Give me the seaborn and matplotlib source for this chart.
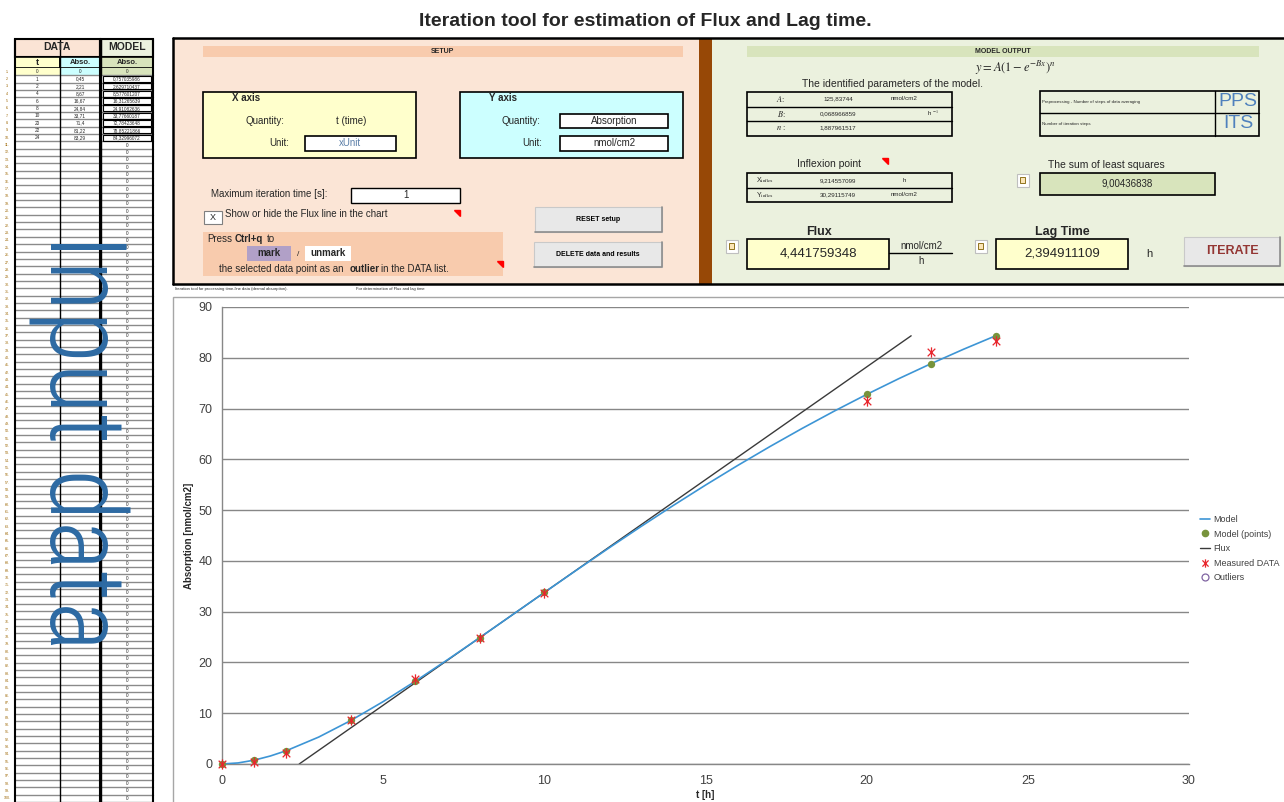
import numpy as np
import pandas as pd
import seaborn as sns
import matplotlib.pyplot as plt
from matplotlib.patches import Rectangle, Polygon
from matplotlib.lines import Line2D
from matplotlib.path import Path

# ---- data read from the sheet ----
t_data = [0, 1, 2, 4, 6, 8, 10, 20, 22, 24]
abs_data = [0, 0.45, 2.21, 8.67, 16.67, 24.84, 33.71, 71.4, 81.22, 83.29]
abs_text = ["0", "0,45", "2,21", "8,67", "16,67", "24,84", "33,71", "71,4", "81,22", "83,29"]
model_pts = [0, 0.757, 2.630, 8.577, 16.313, 24.911, 33.777, 72.784, 78.852, 84.330]
model_text = ["0", "0,757035986", "2,629710437", "8,577601207", "16,31265639", "24,91082636",
              "33,77660187", "72,78423648", "78,85221866", "84,32996072"]

# model curve as drawn in the chart
curve_t = [0, 0.5, 1, 1.5, 2, 3, 4, 5, 6, 7, 8, 9, 10, 11, 12, 13, 14, 15, 16, 17,
           18, 19, 20, 21, 22, 23, 24]
curve_y = [0, 0.211, 0.757, 1.576, 2.629, 5.304, 8.576, 12.289, 16.310, 20.547, 24.907,
           29.338, 33.777, 38.182, 42.525, 46.776, 50.913, 54.924, 58.796, 62.520,
           66.093, 69.516, 72.785, 75.898, 78.850, 81.665, 84.330]

# flux line: from lag time up to max model value
flux_x = [2.394911109, 21.38]
flux_y = [0, 84.33]

legend_labels = ["Model", "Model (points)", "Flux", "Measured DATA", "Outliers"]

sns.set_style("white")
plt.rcParams['font.family'] = ['Liberation Sans', 'DejaVu Sans']
plt.rcParams['mathtext.fontset'] = 'stix'

fig = plt.figure(figsize=(12.84, 8.02), dpi=100)
bg = fig.add_axes([0, 0, 1, 1])
bg.set_xlim(0, 1284)
bg.set_ylim(802, 0)
bg.axis('off')


def rect(x, y, w, h, fc='none', ec='black', lw=1.0, z=1):
    bg.add_patch(Rectangle((x, y), w, h, facecolor=fc, edgecolor=ec, lw=lw, zorder=z))


def txt(x, y, s, size=7, ha='center', va='center', z=5, **kw):
    return bg.text(x, y, s, fontsize=size, ha=ha, va=va, zorder=z, **kw)


def tri(x, y):
    bg.add_patch(Polygon([(x - 6, y - 3), (x, y - 3), (x, y + 3)], closed=True,
                         color='red', zorder=6))


def icon(x, y):
    rect(x - 6, y - 7, 12, 13, fc='white', ec='#bfbfbf', lw=0.8, z=4)
    rect(x - 3, y - 4, 5, 6, fc='#fbe5b6', ec='#7f6000', lw=0.6, z=5)


def button(x, y, w, h, label, size=5, color='black'):
    rect(x, y, w, h, fc='#e8e8e8', ec='#c9c9c9', lw=0.8, z=3)
    bg.plot([x + w, x + w, x], [y, y + h, y + h], color='#8c8c8c', lw=1.2, zorder=4)
    txt(x + w / 2, y + h / 2, label, size=size, weight='bold', color=color)


# ---- title ----
txt(645, 21, "Iteration tool for estimation of Flux and Lag time.", size=14, weight='bold')

# ---- DATA / MODEL table ----
rect(15, 39, 85, 18, fc='#fbe4d5', lw=1.5, z=2)
txt(57, 47, "DATA", size=7.5, weight='bold')
rect(101, 39, 52, 18, fc='#ebf1de', lw=1.5, z=2)
txt(127, 47, "MODEL", size=7.5, weight='bold')
rect(15, 57, 45, 11, fc='#ffffcc', lw=1.2, z=2)
rect(60, 57, 40, 11, fc='#ccffff', lw=1.2, z=2)
rect(101, 57, 52, 11, fc='#d8e4bc', lw=1.2, z=2)
txt(37, 62.5, "t", size=6.5, weight='bold')
txt(80, 62.5, "Abso.", size=5.5, weight='bold')
txt(127, 62.5, "Abso.", size=5.5, weight='bold')

row_h = 7.34
n_rows = 100
for i in range(n_rows):
    y0 = 68 + i * row_h
    yc = y0 + row_h / 2
    if i == 0:
        rect(15, y0, 45, row_h, fc='#ffffcc', ec='none', z=2)
        rect(60, y0, 40, row_h, fc='#ccffff', ec='none', z=2)
        rect(101, y0, 52, row_h, fc='#d8e4bc', ec='none', z=2)
    bg.plot([15, 153], [y0 + row_h, y0 + row_h], color='#8a8a8a', lw=1.0, zorder=2)
    txt(7, yc, f"{i + 1}.", size=2.6, color='#9c6500')
    if i < len(t_data):
        txt(37, yc, str(t_data[i]), size=3.4)
        txt(80, yc, abs_text[i], size=3.4)
        txt(127, yc, model_text[i], size=3.4)
        if i > 0:
            rect(103, y0 + 0.6, 48, row_h - 1.2, ec='black', lw=0.8, z=3)
    else:
        txt(127, yc, "0", size=3.4)
for xv, lw in [(15, 1.5), (60, 1.0), (100, 1.5), (101, 1.0), (153, 1.5)]:
    bg.plot([xv, xv], [39, 802], color='black', lw=lw, zorder=3)

t_in = bg.text(50, 233, "Input data", fontsize=70, rotation=-90, rotation_mode='anchor',
               ha='left', va='baseline', color='#2d6aa3', zorder=6, weight='light',
               family=['Roboto Condensed', 'Liberation Sans Narrow', 'Liberation Sans'])
fig.canvas.draw()
bb = t_in.get_window_extent()
t_in.set_fontsize(70 * 418 / bb.height)

# ---- panels ----
rect(173, 38, 526, 246, fc='#fbe5d6', ec='none', z=1)
rect(699, 38, 13, 246, fc='#974806', ec='none', z=1)
rect(712, 38, 600, 246, fc='#ebf1de', ec='none', z=1)
bg.plot([173, 1284], [38, 38], color='black', lw=1.8, zorder=2)
bg.plot([173, 1284], [284, 284], color='black', lw=1.8, zorder=2)
bg.plot([173, 173], [38, 284], color='black', lw=1.8, zorder=2)

# SETUP
rect(203, 46, 480, 11, fc='#f8cbad', ec='none', z=2)
txt(443, 51.5, "SETUP", size=5, weight='bold')

rect(203, 92, 213, 66, fc='#ffffcc', lw=1.2, z=2)
txt(232, 98, "X axis", size=7, weight='bold', ha='left')
txt(265, 121, "Quantity:", size=7)
txt(351, 121, "t (time)", size=7)
txt(289, 143, "Unit:", size=7, ha='right')
rect(305, 136, 91, 15, fc='white', lw=1.2, z=3)
txt(350, 143.5, "xUnit", size=7, color='#5b7fa8')

rect(460, 92, 223, 66, fc='#ccffff', lw=1.2, z=2)
txt(489, 98, "Y axis", size=7, weight='bold', ha='left')
txt(521, 121, "Quantity:", size=7)
rect(560, 114, 108, 14, fc='white', lw=1.2, z=3)
txt(614, 121, "Absorption", size=7)
txt(532, 143, "Unit:", size=7)
rect(560, 136, 108, 15, fc='white', lw=1.2, z=3)
txt(614, 143.5, "nmol/cm2", size=7)

txt(211, 194, "Maximum iteration time [s]:", size=7, ha='left')
rect(351, 188, 109, 15, fc='white', lw=1.0, z=3)
txt(406, 195.5, "1", size=7)

rect(204, 211, 18, 13, fc='white', ec='#7f7f7f', lw=0.8, z=3)
txt(213, 217.5, "X", size=6.5)
txt(225, 214, "Show or hide the Flux line in the chart", size=7, ha='left')
tri(460, 213)

rect(203, 232, 300, 44, fc='#f8cbad', ec='none', z=2)
txt(207, 239, "Press", size=7, ha='left')
txt(235, 239, "Ctrl+q", size=7, ha='left', weight='bold')
txt(267, 239, "to", size=7, ha='left')
rect(247, 246, 44, 15, fc='#b1a0c7', ec='none', z=3)
txt(269, 253.5, "mark", size=7, weight='bold')
txt(298, 254, "/", size=6)
rect(305, 246, 46, 15, fc='white', ec='none', z=3)
txt(328, 253.5, "unmark", size=7, weight='bold')
txt(219, 269, "the selected data point as an", size=7, ha='left')
txt(350, 269, "outlier", size=7, ha='left', weight='bold')
txt(381, 269, "in the DATA list.", size=7, ha='left')
tri(503, 264)

button(535, 207, 127, 25, "RESET setup")
button(534, 242, 128, 25, "DELETE data and results")

# MODEL OUTPUT
rect(747, 46, 512, 11, fc='#d8e4bc', ec='none', z=2)
txt(1003, 51.5, "MODEL OUTPUT", size=5, weight='bold')
txt(1015, 68, r"$y = A(1 - e^{-Bx})^n$", size=9)
txt(893, 84, "The identified parameters of the model.", size=7.5)

rect(747, 92, 205, 44, fc='none', lw=1.2, z=3)
bg.plot([747, 952], [106.5, 106.5], color='black', lw=1.0, zorder=3)
bg.plot([747, 952], [121, 121], color='black', lw=1.0, zorder=3)
txt(781, 99, "$A$:", size=6)
txt(838, 99, "125,83744", size=4.5)
txt(904, 99, "nmol/cm2", size=4.5)
txt(781, 114, "$B$:", size=6)
txt(838, 114, "0,068966859", size=4.5)
txt(933, 113, r"h $^{-1}$", size=4.5)
txt(781, 128, "$n$ :", size=6)
txt(838, 128, "1,887961517", size=4.5)

txt(829, 164, "Inflexion point", size=7.5)
tri(888, 161)
rect(747, 173, 205, 29, fc='none', lw=1.2, z=3)
bg.plot([747, 952], [188, 188], color='black', lw=1.0, zorder=3)
txt(765, 180.5, r"X$_{\rm inflex}$", size=5)
txt(838, 180.5, "9,214557099", size=4.5)
txt(904, 180.5, "h", size=4.5)
txt(765, 195, r"Y$_{\rm inflex}$", size=5)
txt(838, 195, "30,29115749", size=4.5)
txt(904, 195, "nmol/cm2", size=4.5)

rect(1040, 91, 219, 45, fc='none', lw=1.2, z=3)
bg.plot([1040, 1259], [113, 113], color='black', lw=1.0, zorder=3)
bg.plot([1215, 1215], [91, 136], color='black', lw=1.0, zorder=3)
txt(1042, 102, "Preprocessing - Number of steps of data averaging", size=3.2, ha='left')
txt(1042, 124, "Number of iteration steps", size=3.2, ha='left')
txt(1238, 101, "PPS", size=14, color='#4f81bd')
txt(1238, 124, "ITS", size=14, color='#4f81bd')

txt(1106, 165, "The sum of least squares", size=7.5)
icon(1023, 181)
rect(1040, 173, 175, 22, fc='#d8e4bc', lw=1.2, z=3)
txt(1127, 184, "9,00436838", size=7)

txt(819, 232, "Flux", size=9, weight='bold')
icon(732, 247)
rect(747, 239, 142, 30, fc='#ffffcc', lw=1.2, z=3)
txt(818, 254, "4,441759348", size=9.5)
txt(921, 246, "nmol/cm2", size=7)
bg.plot([889, 952], [253, 253], color='black', lw=1.0, zorder=3)
txt(921, 261, "h", size=7)

txt(1062, 232, "Lag Time", size=9, weight='bold')
icon(981, 247)
rect(996, 239, 132, 30, fc='#ffffcc', lw=1.2, z=3)
txt(1062, 254, "2,394911109", size=9.5)
txt(1149, 254, "h", size=8)

button(1184, 237, 96, 29, "ITERATE", size=9, color='#943634')

# chart frame and small header line
txt(175, 289, "Iteration tool for processing time-line data (dermal absorption).", size=3, ha='left')
txt(356, 289, "For determination of Flux and lag time", size=3, ha='left')
rect(173, 297, 1130, 520, fc='white', ec='#a6a6a6', lw=1.0, z=1)

# ---- chart ----
ax = fig.add_axes([222 / 1284, 1 - 764 / 802, 967 / 1284, 457 / 802])
ax.set_zorder(2)

star = Path([(-1, -1), (1, 1), (-1, 1), (1, -1), (0, -1.35), (0, 1.35)],
            [Path.MOVETO, Path.LINETO, Path.MOVETO, Path.LINETO, Path.MOVETO, Path.LINETO])

sns.lineplot(x=curve_t, y=curve_y, ax=ax, color='#3d95d5', lw=1.2, sort=False,
             estimator=None, zorder=3)
sns.lineplot(x=flux_x, y=flux_y, ax=ax, color='#3a3a3a', lw=1.0, sort=False,
             estimator=None, zorder=2)
sns.scatterplot(x=t_data, y=model_pts, ax=ax, color='#77933c', s=28, linewidth=0,
                zorder=4, clip_on=False)
sns.scatterplot(x=t_data, y=abs_data, ax=ax, marker=star, s=55, color='#e8262d',
                edgecolor='#e8262d', linewidth=0.9, zorder=5, clip_on=False)

ax.set_xlim(0, 30)
ax.set_ylim(0, 90)
ax.set_xticks(range(0, 31, 5))
ax.set_yticks(range(0, 91, 10))
ax.yaxis.grid(True, color='#878787', lw=1.0)
ax.xaxis.grid(False)
ax.set_axisbelow(True)
for s in ['top', 'right']:
    ax.spines[s].set_visible(False)
ax.spines['left'].set_color('#878787')
ax.spines['bottom'].set_color('#878787')
ax.spines['left'].set_linewidth(1.0)
ax.spines['bottom'].set_linewidth(1.0)
ax.tick_params(axis='y', length=4, color='#878787', width=1.0, pad=3,
               labelsize=9, labelcolor='#404040')
ax.tick_params(axis='x', length=0, pad=8, labelsize=9, labelcolor='#404040')
ax.set_xlabel("t [h]", fontsize=7, weight='bold')
ax.set_ylabel("Absorption [nmol/cm2]", fontsize=7, weight='bold')
ax.xaxis.set_label_coords(0.5, -(790 - 764) / 457)
ax.yaxis.set_label_coords(-(222 - 194) / 967, 0.5)

handles = [
    Line2D([], [], color='#3d95d5', lw=1.2),
    Line2D([], [], color='#77933c', marker='o', ls='none', markersize=4.5),
    Line2D([], [], color='#3a3a3a', lw=1.0),
    Line2D([], [], color='#e8262d', marker=star, ls='none', markersize=6, markeredgewidth=0.9),
    Line2D([], [], color='#8064a2', marker='o', ls='none', markersize=5,
           markerfacecolor='none', markeredgewidth=0.9),
]
leg = fig.legend(handles, legend_labels, loc='upper left',
                 bbox_to_anchor=(1200 / 1284, 1 - 515 / 802), frameon=False,
                 fontsize=6.5, handlelength=1.1, handletextpad=0.4,
                 labelspacing=0.62, borderaxespad=0, borderpad=0)
for t in leg.get_texts():
    t.set_color('#404040')

fig.savefig("out.png", dpi=100)
